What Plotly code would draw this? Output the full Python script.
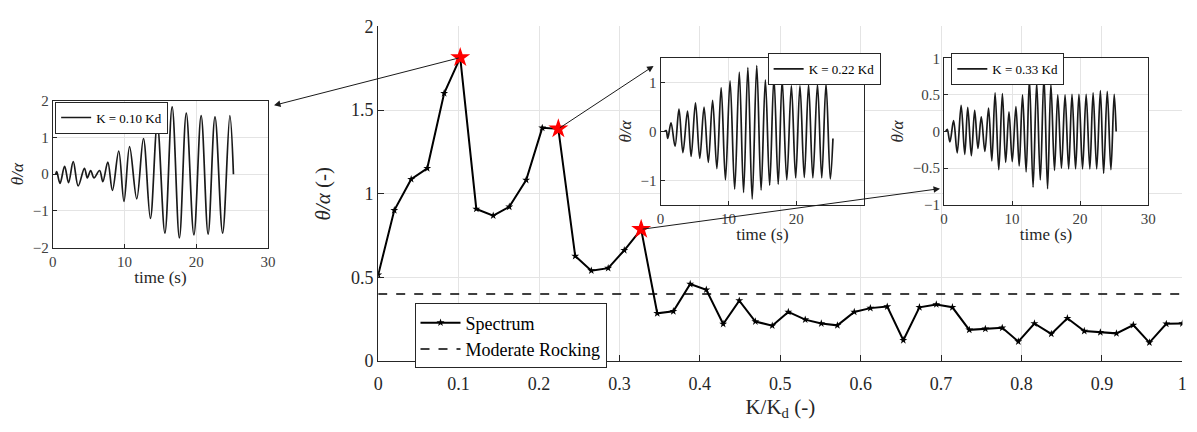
import plotly.graph_objects as go

W, H = 1197, 432

# ---------------- data ----------------
k_ratio = [0, 0.020, 0.041, 0.061, 0.082, 0.102, 0.122, 0.143, 0.163, 0.184,
           0.204, 0.224, 0.245, 0.265, 0.286, 0.306, 0.327, 0.347, 0.367, 0.388,
           0.408, 0.429, 0.449, 0.469, 0.490, 0.510, 0.531, 0.551, 0.571, 0.592,
           0.612, 0.633, 0.653, 0.673, 0.694, 0.714, 0.735, 0.755, 0.776, 0.796,
           0.816, 0.837, 0.857, 0.878, 0.898, 0.918, 0.939, 0.959, 0.980, 1.000]
spectrum = [0.515, 0.901, 1.087, 1.152, 1.601, 1.814, 0.909, 0.869, 0.922, 1.082,
            1.394, 1.388, 0.627, 0.540, 0.555, 0.662, 0.787, 0.285, 0.297, 0.460,
            0.426, 0.221, 0.361, 0.236, 0.211, 0.293, 0.247, 0.224, 0.213, 0.293,
            0.316, 0.325, 0.124, 0.321, 0.338, 0.321, 0.186, 0.192, 0.198, 0.116,
            0.224, 0.162, 0.255, 0.179, 0.171, 0.165, 0.215, 0.110, 0.222, 0.224]
moderate_x = [0, 1]
moderate_y = [0.4, 0.4]
highlight_idx = [5, 11, 16]

# inset time histories (extrema)
t1 = [0.4, 0.55, 1.01, 1.65, 2.2, 2.85, 3.54, 4.41, 4.82, 5.28,
      5.74, 6.52, 6.98, 7.67, 8.31, 9.19, 9.92, 10.7, 11.7, 12.63,
      13.6, 14.56, 15.62, 16.63, 17.64, 18.6, 19.66, 20.67, 21.64, 22.6,
      23.66, 24.67, 25.17]
v1 = [0, 0.07, -0.25, 0.21, -0.23, 0.34, -0.32, 0.16, -0.1, 0.1,
      -0.1, 0.1, -0.2, 0.33, -0.44, 0.63, -0.74, 0.75, -0.67, 0.97,
      -1.2, 1.37, -1.6, 1.83, -1.73, 1.66, -1.65, 1.59, -1.63, 1.56,
      -1.6, 1.59, 0]

t2 = [0.58, 0.83, 1.07, 1.55, 2.14, 2.72, 3.30, 3.98, 4.51, 5.15,
      5.78, 6.41, 7.04, 7.67, 8.30, 8.93, 9.56, 10.24, 10.92, 11.60,
      12.23, 12.86, 13.50, 14.17, 14.81, 15.44, 16.07, 16.70, 17.33, 17.91,
      18.59, 19.27, 19.90, 20.53, 21.17, 21.80, 22.43, 23.11, 23.74, 24.37,
      25.0, 25.39]
v2 = [0, 0.02, -0.14, 0.18, -0.3, 0.46, -0.43, 0.42, -0.51, 0.59,
      -0.55, 0.5, -0.63, 0.64, -0.76, 0.9, -0.99, 1.04, -1.18, 1.22,
      -1.25, 1.31, -1.38, 1.35, -1.2, 1.06, -1.1, 1.11, -1.08, 1.06,
      -0.99, 0.94, -0.95, 0.94, -0.94, 0.96, -0.95, 0.97, -0.95, 0.98,
      -0.97, -0.14]

t3 = [0.24, 0.48, 0.87, 1.41, 1.94, 2.52, 3.05, 3.49, 4.02, 4.51,
      4.99, 5.48, 6.01, 6.55, 7.03, 7.51, 8.05, 8.58, 9.06, 9.55,
      10.03, 10.57, 11.05, 11.54, 12.07, 12.55, 13.09, 13.62, 14.15, 14.69,
      15.22, 15.71, 16.24, 16.72, 17.26, 17.79, 18.32, 18.81, 19.34, 19.83,
      20.36, 20.89, 21.43, 21.91, 22.44, 22.98, 23.46, 23.99, 24.53, 25.01,
      25.30]
v3 = [0, 0.03, -0.14, 0.15, -0.29, 0.36, -0.31, 0.33, -0.33, 0.29,
      -0.23, 0.2, -0.27, 0.32, -0.4, 0.53, -0.52, 0.52, -0.42, 0.27,
      -0.41, 0.34, -0.47, 0.5, -0.55, 0.72, -0.76, 0.67, -0.66, 0.75,
      -0.78, 0.65, -0.53, 0.5, -0.5, 0.5, -0.51, 0.51, -0.51, 0.51,
      -0.51, 0.51, -0.51, 0.53, -0.51, 0.56, -0.57, 0.55, -0.52, 0.51,
      0]

inset_labels = ["K = 0.10 Kd", "K = 0.22 Kd", "K = 0.33 Kd"]

# ---------------- layout geometry (pixels) ----------------
FONT = "Liberation Serif"
DARK = "#262626"
GRID = "#e4e4e4"

main_px = (377.3, 1190.3, 17.3, 368.0)          # left, right, top, bottom
inset_px = [(48.3, 266.0, 95.0, 249.3),
            (662.7, 868.7, 50.7, 204.3),
            (949.3, 1155.7, 50.7, 204.3)]


def xdom(b):
    return [b[0] / W, b[1] / W]


def ydom(b):
    return [1 - b[3] / H, 1 - b[2] / H]


fig = go.Figure()

fig.add_trace(go.Scatter(
    x=moderate_x, y=moderate_y, mode="lines", name="Moderate Rocking",
    line=dict(color="#000000", width=1.5, dash="dash"),
    xaxis="x", yaxis="y", legend="legend", legendrank=2))
fig.add_trace(go.Scatter(
    x=k_ratio, y=spectrum, mode="lines+markers", name="Spectrum",
    line=dict(color="#000000", width=2),
    marker=dict(symbol="star", size=6, color="#000000"),
    xaxis="x", yaxis="y", legend="legend", legendrank=1))
fig.add_trace(go.Scatter(
    x=[k_ratio[i] for i in highlight_idx], y=[spectrum[i] for i in highlight_idx],
    mode="markers", showlegend=False,
    marker=dict(symbol="star", size=15, color="#ff0000"),
    xaxis="x", yaxis="y"))

series = [(t1, v1), (t2, v2), (t3, v3)]
for i, (t, v) in enumerate(series):
    n = i + 2
    fig.add_trace(go.Scatter(
        x=t, y=v, mode="lines", name=inset_labels[i],
        line=dict(color="#1a1a1a", width=1.7, shape="spline", smoothing=1.0),
        xaxis=f"x{n}", yaxis=f"y{n}", legend=f"legend{n}"))

axis_common = dict(showgrid=True, gridcolor=GRID, showline=True, linecolor=DARK,
                   linewidth=1, ticks="inside", tickcolor=DARK, zeroline=False,
                   tickfont=dict(family=FONT, size=18, color=DARK))

layout = dict(
    width=W, height=H, margin=dict(l=0, r=0, t=0, b=0),
    paper_bgcolor="white", plot_bgcolor="white",
    font=dict(family=FONT, color=DARK),
    xaxis=dict(domain=xdom(main_px), range=[0, 1], dtick=0.1, ticklen=6,
               anchor="y", ticklabelstandoff=6,
               title=dict(text="K/K<sub>d</sub> (-)", font=dict(family=FONT, size=21, color=DARK),
                          standoff=6),
               **axis_common),
    yaxis=dict(domain=ydom(main_px), range=[0, 2], dtick=0.5, ticklen=6,
               anchor="x",
               title=dict(text="<i>θ/α</i> (-)", font=dict(family=FONT, size=21, color=DARK),
                          standoff=14),
               **axis_common),
    legend=dict(x=414 / W, y=1 - 307.7 / H, xanchor="left", yanchor="top",
                bgcolor="white", bordercolor=DARK, borderwidth=1,
                font=dict(family=FONT, size=18, color="#000000"),
                itemwidth=40, tracegroupgap=0),
)

inset_axis = dict(showgrid=True, gridcolor=GRID, showline=True, mirror=True,
                  linecolor=DARK, linewidth=1, ticks="inside", ticklen=4,
                  tickcolor=DARK, zeroline=False,
                  tickfont=dict(family=FONT, size=15, color="#404040"))
yranges = [([-2, 2], [-2, -1, 0, 1, 2]),
           ([-1.5, 1.5], [-1, 0, 1]),
           ([-1, 1], [-1, -0.5, 0, 0.5, 1])]
xticks = [[0, 10, 20, 30], [0, 10, 20], [0, 10, 20, 30]]
legend_pos = [(50.7, 96.0), (771.0, 45.0), (956.7, 45.0)]

for i, b in enumerate(inset_px):
    n = i + 2
    layout[f"xaxis{n}"] = dict(domain=xdom(b), range=[0, 30], tickvals=xticks[i],
                               anchor=f"y{n}",
                               title=dict(text="time (s)", font=dict(family=FONT, size=17, color=DARK),
                                          standoff=2),
                               **inset_axis)
    layout[f"yaxis{n}"] = dict(domain=ydom(b), range=yranges[i][0], tickvals=yranges[i][1],
                               anchor=f"x{n}",
                               title=dict(text="<i>θ/α</i>", font=dict(family=FONT, size=17, color=DARK),
                                          standoff=4),
                               **inset_axis)
    lx, ly = legend_pos[i]
    layout[f"legend{n}"] = dict(x=lx / W, y=1 - ly / H, xanchor="left", yanchor="top",
                                bgcolor="white", bordercolor=DARK, borderwidth=1,
                                font=dict(family=FONT, size=13, color="#000000"),
                                itemwidth=30)

fig.update_layout(**layout)


# arrows from highlighted points to insets (heads given in pixel space, converted
# to main-axis data units)
def to_data(px, py):
    x = (px - main_px[0]) / (main_px[1] - main_px[0])
    y = (main_px[3] - py) / (main_px[3] - main_px[2]) * 2
    return x, y


heads_px = [(inset_px[0][1] + 6, inset_px[0][2] + 5),
            (inset_px[1][0] - 7, inset_px[1][2] + 8),
            (inset_px[2][0] - 4, inset_px[2][3] - 17)]
for idx, (hx, hy) in zip(highlight_idx, heads_px):
    dx, dy = to_data(hx, hy)
    fig.add_annotation(x=dx, y=dy, ax=k_ratio[idx], ay=spectrum[idx],
                       xref="x", yref="y", axref="x", ayref="y",
                       text="", showarrow=True, arrowhead=2, arrowsize=1.3,
                       arrowwidth=1, arrowcolor="#1a1a1a", standoff=0, startstandoff=0)

fig.write_html("out.html")
